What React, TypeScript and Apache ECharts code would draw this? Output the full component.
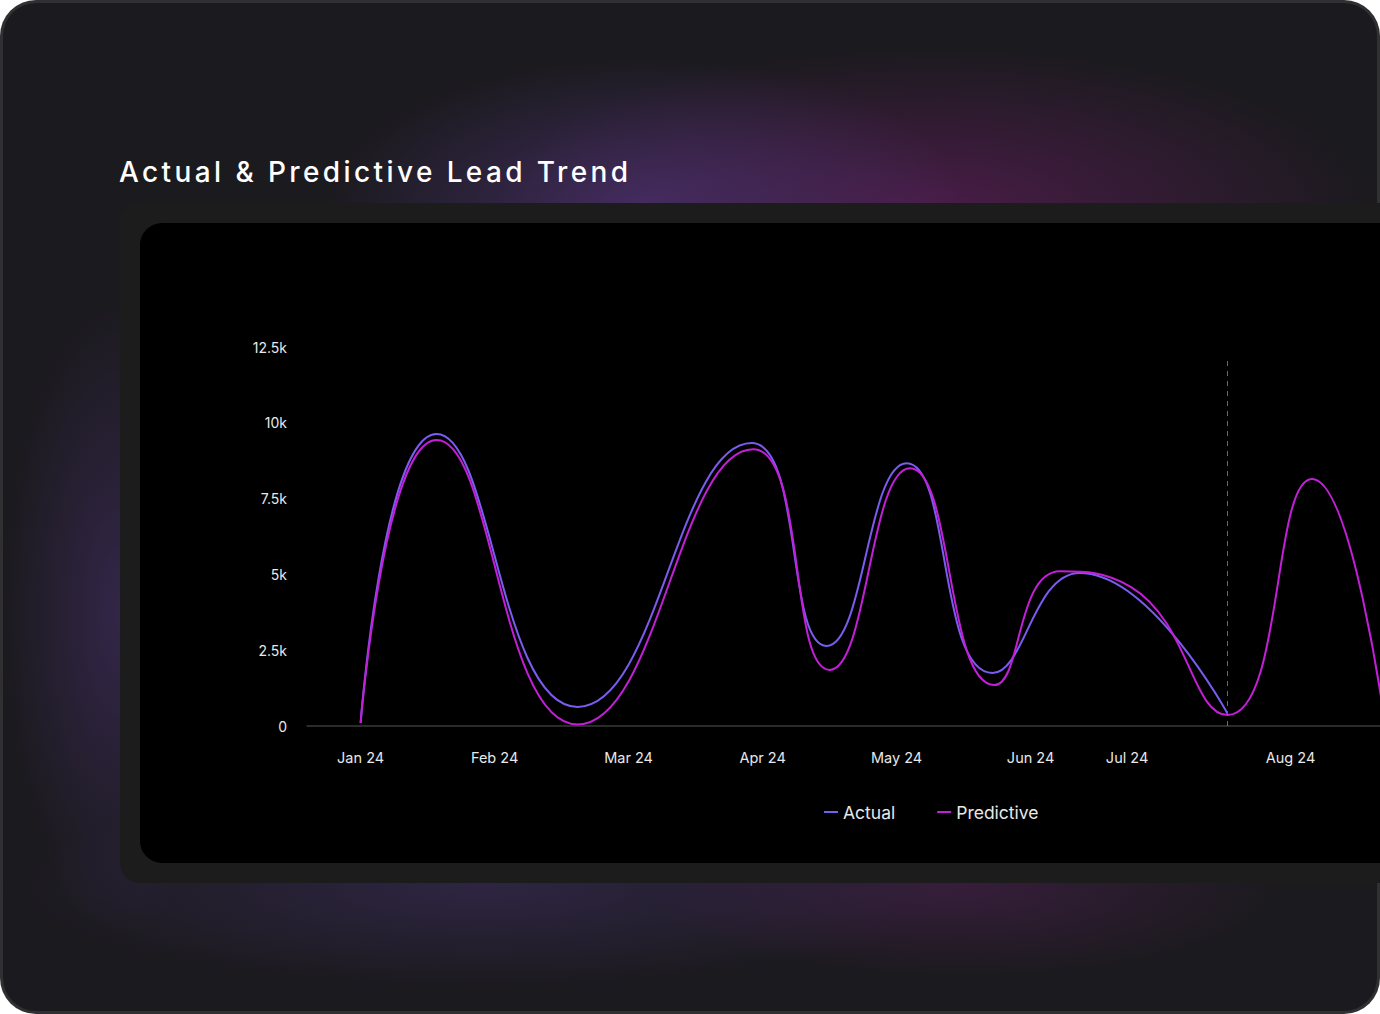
import React, { useEffect, useRef } from "react";
import * as echarts from "echarts";

// ---- Data ----
const monthLabels = ["Jan 24", "Feb 24", "Mar 24", "Apr 24", "May 24", "Jun 24", "Jul 24", "Aug 24"];
const monthPositions = [0, 1, 2, 3, 4, 5, 5.72, 6.94];

const actualX = [0, 0.567, 1.619, 2.918, 3.478, 4.075, 4.716, 5.366, 6.47];
const actualY = [100, 9630, 630, 9330, 2640, 8670, 1750, 5050, 400];

const predictiveX = [0, 0.567, 1.619, 2.93, 3.5, 4.1, 4.73, 5.22, 5.75, 6.47, 7.1, 7.64];
const predictiveY = [100, 9430, 50, 9130, 1850, 8500, 1350, 5100, 4580, 360, 8150, 200];

const yTicks = [0, 2500, 5000, 7500, 10000, 12500];
const forecastStartX = 6.47;
const forecastLineTop = 12100;

const ACTUAL_COLOR = "#7b5cf0";
const PREDICTIVE_COLOR = "#c41fd8";
const FONT = "Inter, 'Open Sans', sans-serif";

function Chart() {
  const ref = useRef<HTMLDivElement>(null);
  useEffect(() => {
    if (!ref.current) return;
    const chart = echarts.init(ref.current, null, { renderer: "svg" });
    const option: any = {
      animation: false,
      backgroundColor: "transparent",
      textStyle: { fontFamily: FONT },
      grid: {
        left: 307,
        top: 347,
        width: 1125.6,
        height: 379,
        containLabel: false,
        outerBoundsMode: "none",
      },
      legend: {
        left: 819,
        top: 798,
        icon: "rect",
        itemWidth: 14,
        itemHeight: 2,
        itemGap: 42,
        textStyle: { color: "#e8e8e8", fontSize: 17.5, fontFamily: FONT },
        data: ["Actual", "Predictive"],
      },
      xAxis: {
        type: "value",
        min: -0.4,
        max: 8,
        axisLine: { show: true, lineStyle: { color: "#3a3a3a", width: 1.5 } },
        axisTick: { show: false },
        splitLine: { show: false },
        axisLabel: {
          customValues: monthPositions,
          color: "#e8e8e8",
          fontSize: 14.5,
          margin: 24,
          fontFamily: FONT,
          formatter: (v: number) => {
            const i = monthPositions.findIndex((p) => Math.abs(p - v) < 1e-6);
            return i >= 0 ? monthLabels[i] : "";
          },
        },
      },
      yAxis: {
        type: "value",
        min: yTicks[0],
        max: yTicks[yTicks.length - 1],
        interval: 2500,
        axisLine: { show: false },
        axisTick: { show: false },
        splitLine: { show: false },
        axisLabel: {
          color: "#e8e8e8",
          fontSize: 14,
          margin: 20,
          fontFamily: FONT,
          formatter: (v: number) => (v === 0 ? "0" : `${v / 1000}k`),
        },
      },
      series: [
        {
          name: "Actual",
          type: "line",
          smooth: true,
          showSymbol: false,
          data: actualX.map((x, i) => [x, actualY[i]]),
          lineStyle: { color: ACTUAL_COLOR, width: 2 },
          itemStyle: { color: ACTUAL_COLOR },
        },
        {
          name: "Predictive",
          type: "line",
          smooth: true,
          showSymbol: false,
          data: predictiveX.map((x, i) => [x, predictiveY[i]]),
          lineStyle: { color: PREDICTIVE_COLOR, width: 2 },
          itemStyle: { color: PREDICTIVE_COLOR },
          markLine: {
            silent: true,
            symbol: ["none", "none"],
            label: { show: false },
            lineStyle: { color: "#6a6a6a", type: [5, 5], width: 1 },
            data: [[{ coord: [forecastStartX, 0] }, { coord: [forecastStartX, forecastLineTop] }]],
          },
        },
      ],
    };
    chart.setOption(option);
    return () => chart.dispose();
  }, []);
  return (
    <div
      ref={ref}
      style={{ position: "absolute", left: 0, top: 0, width: 1600, height: 1014 }}
    />
  );
}

export default function App() {
  const glow = [
    "radial-gradient(ellipse 320px 150px at 640px 203px, rgba(85,55,130,0.6), rgba(85,55,130,0) 100%)",
    "radial-gradient(ellipse 440px 160px at 930px 203px, rgba(110,30,105,0.55), rgba(110,30,105,0) 100%)",
    "radial-gradient(ellipse 120px 320px at 118px 610px, rgba(75,50,115,0.5), rgba(75,50,115,0) 100%)",
    "radial-gradient(ellipse 480px 100px at 480px 885px, rgba(70,50,110,0.45), rgba(70,50,110,0) 100%)",
    "radial-gradient(ellipse 320px 90px at 960px 885px, rgba(95,35,100,0.4), rgba(95,35,100,0) 100%)",
  ].join(",");
  return (
    <div
      style={{
        position: "fixed",
        left: 0,
        top: 0,
        width: 1380,
        height: 1014,
        overflow: "hidden",
        background: "#ffffff",
      }}
    >
      <div
        style={{
          position: "absolute",
          left: 0,
          top: 0,
          width: 1380,
          height: 1014,
          borderRadius: 36,
          background: "#303032",
        }}
      />
      <div
        style={{
          position: "absolute",
          left: 3,
          top: 3,
          width: 1374,
          height: 1008,
          borderRadius: 33,
          backgroundColor: "#1b1a1e",
          backgroundImage: glow,
        }}
      />
      <div
        style={{
          position: "absolute",
          left: 120,
          top: 203,
          width: 1400,
          height: 680,
          borderRadius: 20,
          background: "#1c1c1c",
        }}
      />
      <div
        style={{
          position: "absolute",
          left: 140,
          top: 223,
          width: 1400,
          height: 640,
          borderRadius: 22,
          background: "#000000",
        }}
      />
      <div
        style={{
          position: "absolute",
          left: 119,
          top: 152,
          fontFamily: FONT,
          fontWeight: 500,
          fontSize: 28,
          letterSpacing: 3.4,
          color: "#ffffff",
          whiteSpace: "nowrap",
          lineHeight: "40px",
        }}
      >
        Actual &amp; Predictive Lead Trend
      </div>
      <Chart />
    </div>
  );
}
